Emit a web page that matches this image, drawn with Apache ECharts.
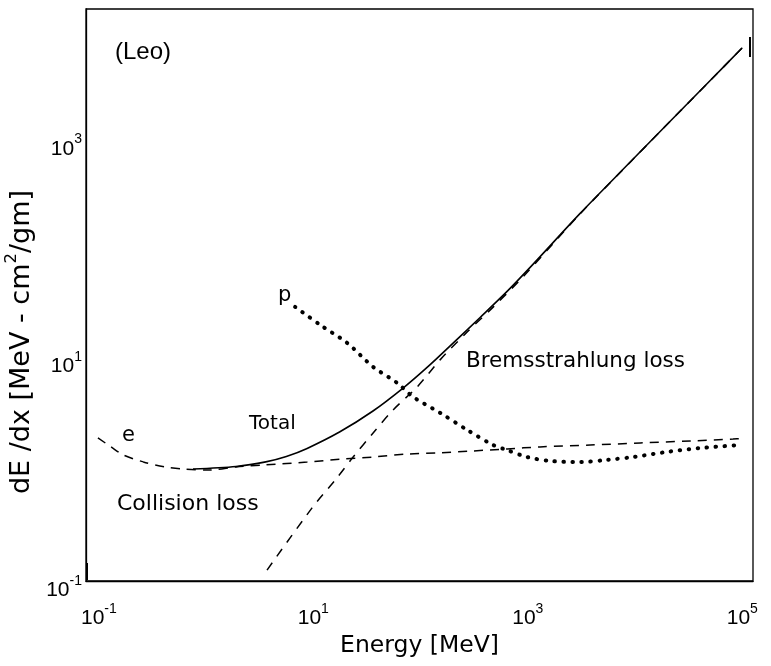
<!DOCTYPE html>
<html>
<head>
<meta charset="utf-8">
<script src="https://cdn.jsdelivr.net/npm/echarts@6/dist/echarts.min.js"></script>
<style>
html,body{margin:0;padding:0;background:#fff;}
#chart{width:771px;height:666px;}
</style>
</head>
<body>
<div id="chart"></div>
<script>
// Energy in MeV, dE/dx in MeV cm^2/g
const collisionE = [0.098, 0.13, 0.17, 0.26, 0.41, 0.61, 1.09, 1.9, 3.6, 8.75, 17.7, 36, 75, 152, 309, 641, 1300, 3810, 11200, 32700, 82000, 100000];
const collisionV = [2.07, 1.71, 1.44, 1.245, 1.12, 1.07, 1.05, 1.12, 1.17, 1.24, 1.32, 1.38, 1.47, 1.51, 1.57, 1.64, 1.71, 1.78, 1.86, 1.94, 2.02, 2.04];

const bremsE = [3.7, 9.73, 16.6, 23.5, 36.1, 55.4, 92.9, 152, 272, 475, 906, 3076, 9016, 17140, 50230, 100000];
const bremsV = [0.126, 0.47, 0.887, 1.38, 2.30, 3.74, 6.09, 10.8, 19.5, 33.0, 63.0, 238, 710, 1358, 3998, 7998];

const totalE = [0.755, 1.9, 3.6, 5.6, 8.75, 17.7, 36, 68.7, 115, 201, 359, 641, 1122, 3076, 9016, 17140, 50230, 100000];
const totalV = [1.07, 1.13, 1.245, 1.396, 1.656, 2.355, 3.656, 5.94, 9.20, 15.4, 26.5, 46.0, 82.0, 240, 712, 1360, 4000, 8000];

const protonE = [6.76, 11.6, 20.6, 36.1, 60.4, 85.1, 152, 272, 475, 641, 986, 1616, 3076, 5500, 9610, 19950, 40550, 95700];
const protonV = [33.2, 22.6, 15.5, 9.31, 6.64, 4.93, 3.52, 2.45, 1.78, 1.60, 1.38, 1.27, 1.24, 1.30, 1.38, 1.54, 1.67, 1.78];

const xTickExponents = [-1, 1, 3, 5];
const yTickExponents = [-1, 1, 3];

function toLog(es, vs) { return es.map((e, i) => [Math.log10(e), Math.log10(vs[i])]); }

const LF = 'Liberation Sans';
const tickRich = {
  b: {fontSize: 21, fontFamily: LF, color: '#000', lineHeight: 27, verticalAlign: 'bottom'},
  s: {fontSize: 14, fontFamily: LF, color: '#000', lineHeight: 27, verticalAlign: 'top'},
  bl: {fontSize: 21, fontFamily: LF, color: '#000', lineHeight: 40, verticalAlign: 'bottom'},
  sl: {fontSize: 14, fontFamily: LF, color: '#000', lineHeight: 40, verticalAlign: 'middle'}
};
const powFmt = v => '{b|10}{s|' + Math.round(v) + '}';
const powFmtY = v => (Math.round(v) === -1 ? '{bl|10}{sl|-1}' : powFmt(v));

const textFont = 'DejaVu Sans';
function note(txt, x, y, size) {
  return {type: 'text', x: x, y: y, style: {text: txt, fontSize: size || 21, fontFamily: textFont, fill: '#000', verticalAlign: 'middle'}};
}

const chart = echarts.init(document.getElementById('chart'), null, {renderer: 'canvas'});
chart.setOption({
  backgroundColor: '#fff',
  animation: false,
  grid: {left: 86, right: 18, top: 9, bottom: 85, show: true, borderColor: '#000', borderWidth: 1.3,
    containLabel: false, outerBoundsMode: 'none'},
  xAxis: {
    type: 'value', min: -1.12, max: 5.1,
    axisLine: {show: true, onZero: false, lineStyle: {color: '#000', width: 1.3}},
    axisTick: {show: false},
    splitLine: {show: false},
    axisLabel: {customValues: xTickExponents, formatter: powFmt, rich: tickRich, margin: 21},
    name: 'Energy [MeV]', nameLocation: 'middle', nameGap: 44,
    nameTextStyle: {fontSize: 23.5, fontFamily: textFont, color: '#000'}
  },
  yAxis: {
    type: 'value', min: -1, max: 4.26,
    axisLine: {show: true, onZero: false, lineStyle: {color: '#000', width: 1.3}},
    axisTick: {show: false},
    splitLine: {show: false},
    axisLabel: {customValues: yTickExponents, formatter: powFmtY, rich: tickRich, margin: 4},
    name: '{a|dE /dx [MeV - cm}{s|2}{a|/gm]}', nameLocation: 'middle', nameGap: 43,
    nameTextStyle: {
      padding: [0, 94, 0, 0],
      rich: {
        a: {fontSize: 27, fontFamily: textFont, color: '#000', lineHeight: 32, verticalAlign: 'bottom'},
        s: {fontSize: 16.5, fontFamily: textFont, color: '#000', lineHeight: 32, verticalAlign: 'top'}
      }
    }
  },
  graphic: [
    {type: 'text', x: 115, y: 52, style: {text: '(Leo)', fontSize: 24, fontFamily: LF, fill: '#000', verticalAlign: 'middle'}},
    note('e', 122, 436, 21),
    note('Total', 249, 424, 20),
    note('Collision loss', 117, 504, 22),
    note('p', 278, 296, 21),
    note('Bremsstrahlung loss', 466, 361, 21.5),
    {type: 'line', shape: {x1: 750, y1: 37, x2: 750, y2: 57}, style: {stroke: '#000', lineWidth: 2}},
    {type: 'line', shape: {x1: 87, y1: 563, x2: 87, y2: 580}, style: {stroke: '#000', lineWidth: 2}}
  ],
  series: [
    {name: 'Collision loss', type: 'line', data: toLog(collisionE, collisionV), showSymbol: false, smooth: 0.3,
      lineStyle: {color: '#000', width: 1.5, type: [9, 7]}},
    {name: 'Bremsstrahlung loss', type: 'line', data: toLog(bremsE, bremsV), showSymbol: false, smooth: 0.3,
      lineStyle: {color: '#000', width: 1.5, type: [9, 8]}},
    {name: 'Total', type: 'line', data: toLog(totalE, totalV), showSymbol: false, smooth: 0.3,
      lineStyle: {color: '#000', width: 1.6}},
    {name: 'p', type: 'line', data: toLog(protonE, protonV), showSymbol: false, smooth: 0.3,
      lineStyle: {color: '#000', width: 4, type: [0.5, 8.5], cap: 'round'}}
  ]
});
</script>
</body>
</html>
